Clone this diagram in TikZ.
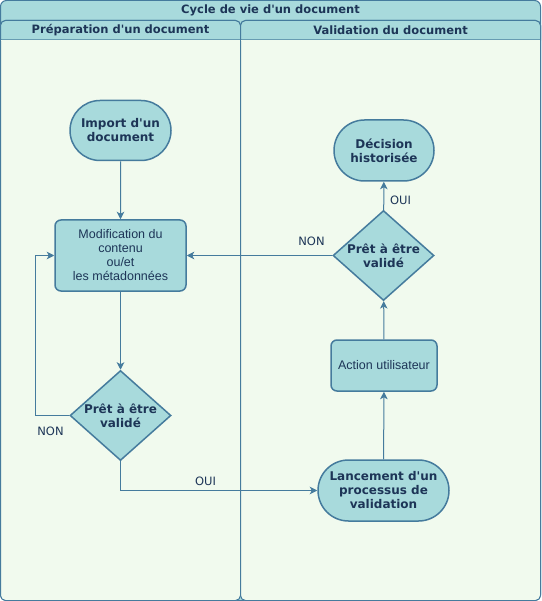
\documentclass[tikz,border=0pt]{standalone}
\usepackage{fontspec}
\setmainfont{DejaVu Sans}[Ligatures=TeXOff]
\newfontfamily\arialf{Liberation Sans}[Ligatures=TeXOff]
\usetikzlibrary{shapes.geometric,shapes.misc,arrows.meta}
\definecolor{hdr}{HTML}{A8DADC}
\definecolor{bgc}{HTML}{F1FAEE}
\definecolor{strk}{HTML}{457B9D}
\definecolor{txt}{HTML}{1D3557}
\begin{document}
\begin{tikzpicture}[x=1pt,y=-1pt,
  lanefont/.style={font=\fontsize{11.5}{13}\selectfont\bfseries, text=txt},
  term/.style={rounded rectangle, draw=strk, fill=hdr, line width=1.5pt, text=txt,
    font=\fontsize{12}{14}\selectfont\bfseries, align=center, inner sep=0pt},
  proc/.style={rectangle, rounded corners=6pt, draw=strk, fill=hdr, line width=1.5pt, text=txt,
    font=\arialf\fontsize{12.5}{14}\selectfont, align=center, inner sep=0pt},
  decis/.style={diamond, aspect=1.12, draw=strk, fill=hdr, line width=1.5pt, text=txt,
    font=\fontsize{12}{14}\selectfont\bfseries, align=center, inner sep=0pt,
    minimum width=101pt, minimum height=90pt},
  conn/.style={draw=strk, line width=1pt, -{Stealth[length=7.5pt,width=7.5pt,inset=2pt]}},
  lbl/.style={font=\fontsize{11.5}{13}\selectfont, text=txt},
  lanebox/.style={draw=strk, line width=1pt}
]
\useasboundingbox (0,0) rectangle (541,601);
% pool
\draw[lanebox, fill=hdr, rounded corners=6pt] (0.5,0.5) rectangle (540.5,600.5);
% left lane
\draw[lanebox, fill=bgc, rounded corners=5pt] (0.5,20.5) rectangle (240.5,600.5);
\draw[lanebox, fill=hdr] (0.5,40) [rounded corners=5pt] -- (0.5,20.5) -- (240.5,20.5) [sharp corners] -- (240.5,40) -- cycle;
\fill[bgc] (1.2,40) rectangle (239.8,41);
% right lane
\draw[lanebox, fill=bgc, rounded corners=5pt] (240.5,20.5) rectangle (540.5,600.5);
\draw[lanebox, fill=hdr] (240.5,40) [rounded corners=5pt] -- (240.5,20.5) -- (540.5,20.5) [sharp corners] -- (540.5,40) -- cycle;
\fill[bgc] (241.2,40) rectangle (539.8,41);

\node[lanefont] (title) at (270.5,10.5) {Cycle de vie d'un document};
\node[lanefont] (lh1) at (120.5,30.5) {Préparation d'un document};
\node[lanefont] (lh2) at (390.5,30.5) {Validation du document};

% nodes
\node[term, minimum width=101pt, minimum height=60pt] (imp) at (120.5,130.5) {Import d'un\\document};
\node[proc, minimum width=131pt, minimum height=71pt] (mod) at (120.5,255.5) {Modification du\\contenu\\ou/et\\les métadonnées};
\node[decis] (d1) at (120.5,415.5) {Prêt à être\\validé};
\node[term, minimum width=131pt, minimum height=61pt] (lan) at (383.5,490.5) {Lancement d'un\\processus de\\validation};
\node[proc, minimum width=106pt, minimum height=51pt] (act) at (384,365.5) {Action utilisateur};
\node[decis] (d2) at (383.5,255.5) {Prêt à être\\validé};
\node[term, minimum width=100pt, minimum height=61pt] (dcs) at (384,150.5) {Décision\\historisée};

% connectors
\draw[conn] (imp) -- (mod);
\draw[conn] (mod) -- (d1);
\coordinate (lp) at (35.5,415.5);
\draw[conn] (d1.west) -- (lp) |- (mod.west);
\draw[conn] (d1.south) |- (lan.west);
\draw[conn] (lan) -- (act);
\draw[conn] (act) -- (d2);
\draw[conn] (d2) -- (dcs);
\draw[conn] (d2.west) -- (mod.east);

% labels
\node[lbl] (non1) at (50.5,431.5) {NON};
\node[lbl] (oui1) at (205.5,481) {OUI};
\node[lbl] (oui2) at (400.5,200) {OUI};
\node[lbl] (non2) at (311.5,241) {NON};
\end{tikzpicture}
\end{document}
